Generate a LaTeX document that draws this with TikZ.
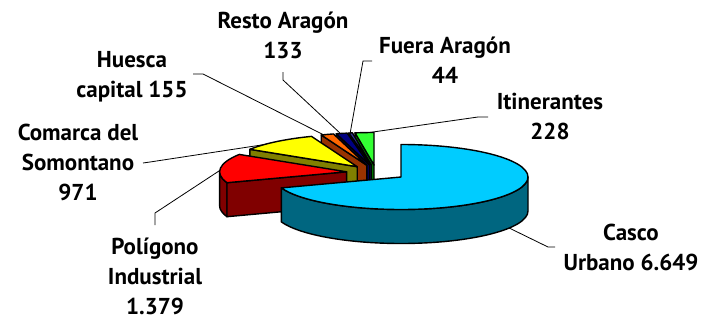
\documentclass[tikz,border=0pt]{standalone}
\usepackage{fontspec}
\setmainfont{PT Sans}
\usepackage{xcolor}
\usepackage{tikz}
\usetikzlibrary{calc}

\definecolor{cascotop}{HTML}{00CCFF}
\definecolor{cascoside}{HTML}{006680}
\definecolor{polytop}{HTML}{FF0000}
\definecolor{polyside}{HTML}{800000}
\definecolor{comarcatop}{HTML}{FFFF00}
\definecolor{comarcaside}{HTML}{808000}
\definecolor{huescatop}{HTML}{FF6600}
\definecolor{huescaside}{HTML}{993300}
\definecolor{restotop}{HTML}{000080}
\definecolor{restoside}{HTML}{000050}
\definecolor{fueratop}{HTML}{333399}
\definecolor{fueraside}{HTML}{1A1A66}
\definecolor{itintop}{HTML}{33FF33}
\definecolor{itinside}{HTML}{008000}

\begin{document}
\begin{tikzpicture}[x=1pt, y=1pt,
  face/.style={draw=black, line width=1.4pt, line join=round},
  lbl/.style={font=\fontsize{23}{30}\selectfont\bfseries, align=center, inner sep=0pt},
  leader/.style={black, line width=0.8pt}]
  \useasboundingbox (0,0) rectangle (706,325);
  % slice centres
  \coordinate (cC) at (401,148);
  \coordinate (cP) at (346.6,153.2);
  \coordinate (cS) at (357.2,158.3);
  \coordinate (cH) at (366.9,159.7);
  \coordinate (cR) at (369.7,159.9);
  \coordinate (cF) at (371.4,160);
  \coordinate (cI) at (374,160);
  % labels
  \node[lbl] (casco) at (631,78) {Casco\\Urbano 6.649};
  \node[lbl] (poly) at (155,49) {Polígono\\Industrial\\1.379};
  \node[lbl] (comarca) at (78,162.5) {Comarca del\\Somontano\\971};
  \node[lbl] (huesca) at (132,248.5) {Huesca\\capital 155};
  \node[lbl] (resto) at (283,290) {Resto Aragón\\133};
  \node[lbl] (fuera) at (445,264.5) {Fuera Aragón\\44};
  \node[lbl] (itin) at (550,208.5) {Itinerantes\\228};
  % leader lines
  \coordinate (eC) at (555,78); \coordinate (kC) at (548,78); \coordinate (pC) at (503,100);
  \coordinate (eP) at (155,100); \coordinate (kP) at (155,112); \coordinate (pP) at (222,156);
  \coordinate (eS) at (143,162); \coordinate (kS) at (150,163); \coordinate (pS) at (268,181);
  \coordinate (eH) at (193,251); \coordinate (kH) at (203,251); \coordinate (pH) at (324,190);
  \coordinate (eR) at (283,253); \coordinate (kR) at (283,245); \coordinate (pR) at (341,191);
  \coordinate (eF) at (372,264); \coordinate (kF) at (363,264); \coordinate (pF) at (350,191);
  \coordinate (eI) at (488,208); \coordinate (kI) at (478,208); \coordinate (pI) at (366,192);
  \draw[leader] (eC) -- (kC) -- (pC);
  \draw[leader] (eP) -- (kP) -- (pP);
  \draw[leader] (eS) -- (kS) -- (pS);
  \draw[leader] (eH) -- (kH) -- (pH);
  \draw[leader] (eR) -- (kR) -- (pR);
  \draw[leader] (eF) -- (kF) -- (pF);
  \draw[leader] (eI) -- (kI) -- (pI);
  % Itinerantes
  \draw[face, fill=itinside] (cI) -- ++(98.59:127 and 32.5) -- ++(0,-34) -- ++(278.59:127 and 32.5) -- cycle;
  \draw[face, fill=itintop] (cI) -- ++(98.59:127 and 32.5) arc[start angle=98.59, end angle=90, x radius=127, y radius=32.5] -- cycle;
  % Fuera Aragon
  \draw[face, fill=fueraside] (cF) -- ++(100.24:127 and 32.5) -- ++(0,-34) -- ++(280.24:127 and 32.5) -- cycle;
  \draw[face, fill=fueratop] (cF) -- ++(100.24:127 and 32.5) arc[start angle=100.24, end angle=98.59, x radius=127, y radius=32.5] -- cycle;
  % Resto Aragon
  \draw[face, fill=restoside] (cR) -- ++(105.25:127 and 32.5) -- ++(0,-34) -- ++(285.25:127 and 32.5) -- cycle;
  \draw[face, fill=restotop] (cR) -- ++(105.25:127 and 32.5) arc[start angle=105.25, end angle=100.24, x radius=127, y radius=32.5] -- cycle;
  % Huesca capital
  \draw[face, fill=huescaside] (cH) -- ++(111.09:127 and 32.5) -- ++(0,-34) -- ++(291.09:127 and 32.5) -- cycle;
  \draw[face, fill=huescatop] (cH) -- ++(111.09:127 and 32.5) arc[start angle=111.09, end angle=105.25, x radius=127, y radius=32.5] -- cycle;
  % Comarca del Somontano
  \draw[face, fill=comarcaside] (cS) -- ++(147.66:127 and 32.5) -- ++(0,-34) -- ++(327.66:127 and 32.5) -- cycle;
  \draw[face, fill=comarcatop] (cS) -- ++(147.66:127 and 32.5) arc[start angle=147.66, end angle=111.09, x radius=127, y radius=32.5] -- cycle;
  % Poligono Industrial
  \draw[face, fill=polyside] (cP) ++(199.59:127 and 32.5) arc[start angle=199.59, end angle=180, x radius=127, y radius=32.5] -- ++(0,-34) arc[start angle=180, end angle=199.59, x radius=127, y radius=32.5] -- cycle;
  \draw[face, fill=polyside] (cP) -- ++(199.59:127 and 32.5) -- ++(0,-34) -- ++(19.59:127 and 32.5) -- cycle;
  \draw[face, fill=polytop] (cP) -- ++(199.59:127 and 32.5) arc[start angle=199.59, end angle=147.66, x radius=127, y radius=32.5] -- cycle;
  % Casco Urbano
  \draw[face, fill=cascoside] (cC) ++(199.59:127 and 32.5) arc[start angle=199.59, end angle=360, x radius=127, y radius=32.5] -- ++(0,-34) arc[start angle=360, end angle=199.59, x radius=127, y radius=32.5] -- cycle;
  \draw[face, fill=cascotop] (cC) -- ++(90:127 and 32.5) arc[start angle=90, end angle=-160.41, x radius=127, y radius=32.5] -- cycle;
\end{tikzpicture}
\end{document}
